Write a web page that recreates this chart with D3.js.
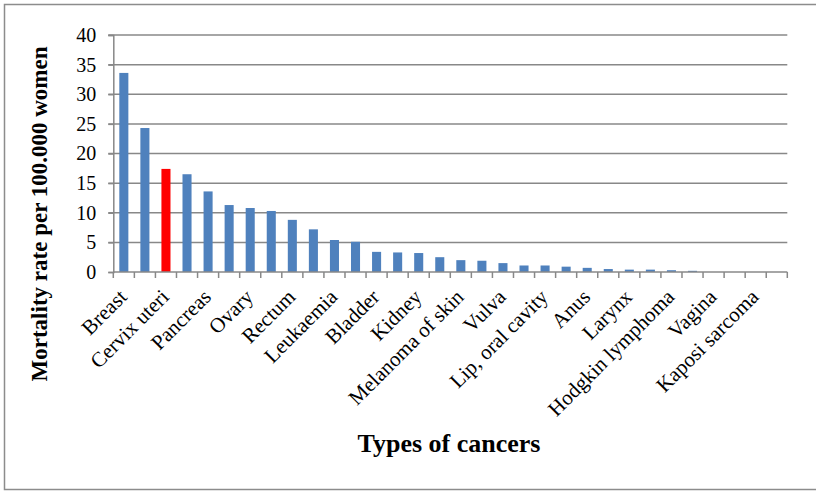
<!DOCTYPE html>
<html>
<head>
<meta charset="utf-8">
<script src="https://cdn.jsdelivr.net/npm/d3@7"></script>
<style>
  html, body { margin: 0; padding: 0; background: #fff; }
  svg { display: block; }
  text { font-family: "Liberation Serif", "Times New Roman", serif; fill: #000; }
</style>
</head>
<body>
<div id="chart"></div>
<script>
// Female cancer mortality, rate per 100.000 women, sorted high to low.
// Only every other category carries a printed label.
const categories = [
  "Breast", "", "Cervix uteri", "", "Pancreas", "", "Ovary", "",
  "Rectum", "", "Leukaemia", "", "Bladder", "", "Kidney", "",
  "Melanoma of skin", "", "Vulva", "", "Lip, oral cavity", "", "Anus", "",
  "Larynx", "", "Hodgkin lymphoma", "", "Vagina", "", "Kaposi sarcoma", ""
];
const rates = [
  33.6, 24.3, 17.4, 16.5, 13.6, 11.3, 10.8, 10.3,
  8.8, 7.2, 5.4, 5.1, 3.4, 3.3, 3.2, 2.5,
  2.0, 1.9, 1.5, 1.1, 1.1, 0.9, 0.7, 0.5,
  0.4, 0.4, 0.3, 0.2, 0, 0, 0, 0
];
const highlighted = ["Cervix uteri"];
const yTicks = [0, 5, 10, 15, 20, 25, 30, 35, 40];
const yTitle = "Mortality rate per 100.000 women";
const xTitle = "Types of cancers";

const W = 816, H = 491;
const plot = { left: 113.3, right: 787.3, top: 35, bottom: 272 };
const serif = '"Liberation Serif", "Times New Roman", serif';

const svg = d3.select("#chart").append("svg")
  .attr("width", W).attr("height", H)
  .attr("font-family", serif);

// outer chart frame
svg.append("rect")
  .attr("x", 4.5).attr("y", 4.5)
  .attr("width", W + 10).attr("height", 485)
  .attr("fill", "#fff").attr("stroke", "#8c8c8c").attr("stroke-width", 1.5);

const idx = d3.range(categories.length);
const x = d3.scaleBand().domain(idx).range([plot.left, plot.right]).paddingInner(0.57).paddingOuter(0.285);
const xb = d3.scaleBand().domain(idx).range([plot.left, plot.right]);
const y = d3.scaleLinear().domain([0, 40]).range([plot.bottom, plot.top]);

// horizontal gridlines with left tick stubs
svg.append("g")
  .selectAll("line").data(yTicks.filter(t => t > 0)).join("line")
  .attr("x1", plot.left - 5).attr("x2", plot.right)
  .attr("y1", d => y(d)).attr("y2", d => y(d))
  .attr("stroke", "#888").attr("stroke-width", 1.5);

// y axis
const yAxis = svg.append("g")
  .attr("transform", `translate(${plot.left},0)`)
  .call(d3.axisLeft(y).tickValues(yTicks).tickSize(5).tickPadding(12))
  .attr("font-family", serif)
  .attr("font-size", 20);
yAxis.select(".domain").attr("stroke", "#888").attr("stroke-width", 1.5);
yAxis.selectAll(".tick line").attr("stroke", "#888").attr("stroke-width", 1.5);
yAxis.selectAll(".tick text").attr("fill", "#000");

// bars
svg.append("g")
  .selectAll("rect").data(idx).join("rect")
  .attr("x", i => x(i))
  .attr("width", x.bandwidth())
  .attr("y", i => y(rates[i]))
  .attr("height", i => y(0) - y(rates[i]))
  .attr("fill", i => highlighted.includes(categories[i]) ? "#ff0000" : "#4f81bd");

// x axis baseline and category boundary ticks
const g = svg.append("g");
g.append("line")
  .attr("x1", plot.left).attr("x2", plot.right)
  .attr("y1", plot.bottom).attr("y2", plot.bottom)
  .attr("stroke", "#888").attr("stroke-width", 1.5);
g.selectAll("line.tk").data(d3.range(categories.length + 1)).join("line")
  .attr("class", "tk")
  .attr("x1", i => plot.left + i * xb.step()).attr("x2", i => plot.left + i * xb.step())
  .attr("y1", plot.bottom).attr("y2", plot.bottom + 6)
  .attr("stroke", "#888").attr("stroke-width", 1.5);

// rotated category labels
g.selectAll("text.cat").data(idx.filter(i => categories[i] !== "")).join("text")
  .attr("class", "cat")
  .attr("transform", i => `translate(${xb(i) + xb.bandwidth() / 2 - 1},${plot.bottom + 21}) rotate(-45)`)
  .attr("text-anchor", "end")
  .attr("dy", "0.35em")
  .attr("font-size", 21)
  .text(i => categories[i]);

// axis titles
svg.append("text")
  .attr("transform", `translate(47,214) rotate(-90)`)
  .attr("text-anchor", "middle")
  .attr("font-size", 23).attr("font-weight", "bold")
  .text(yTitle);

svg.append("text")
  .attr("x", 449).attr("y", 452)
  .attr("text-anchor", "middle")
  .attr("font-size", 26).attr("font-weight", "bold")
  .text(xTitle);
</script>
</body>
</html>
